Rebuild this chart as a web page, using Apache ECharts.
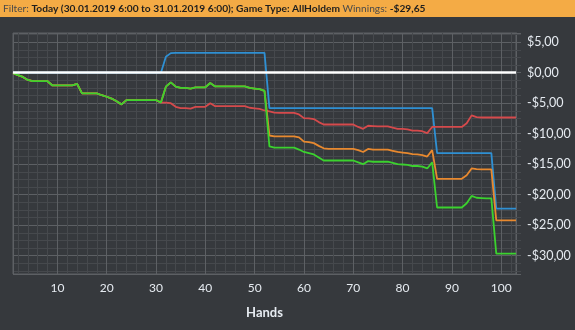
<!DOCTYPE html>
<html>
<head>
<meta charset="utf-8">
<script src="https://cdn.jsdelivr.net/npm/echarts@6/dist/echarts.min.js"></script>
<style>
html, body { margin: 0; padding: 0; background: #36393d; }
#chart { width: 575px; height: 330px; }
</style>
</head>
<body>
<div id="chart"></div>
<script>
// Running totals per hand, in dollars
const showdownWon = [
  0, 0, 0, 0, 0, 0, 0, 0, 0, 0,
  0, 0, 0, 0, 0, 0, 0, 0, 0, 0,
  0, 0, 0, 0, 0, 0, 0, 0, 0, 0,
  0, 2.6, 3.2, 3.25, 3.25, 3.25, 3.25, 3.25, 3.25, 3.25,
  3.25, 3.25, 3.25, 3.25, 3.25, 3.25, 3.25, 3.25, 3.25, 3.25,
  3.25, 3.25, -5.8, -5.8, -5.8, -5.8, -5.8, -5.8, -5.8, -5.8,
  -5.8, -5.8, -5.8, -5.8, -5.8, -5.8, -5.8, -5.8, -5.8, -5.8,
  -5.8, -5.8, -5.8, -5.8, -5.8, -5.8, -5.8, -5.8, -5.8, -5.8,
  -5.8, -5.8, -5.8, -5.8, -5.8, -5.8, -13.2, -13.2, -13.2, -13.2,
  -13.2, -13.2, -13.2, -13.2, -13.2, -13.2, -13.2, -13.2, -22.3, -22.3,
  -22.3, -22.3, -22.3
];
const nonShowdownWon = [
  -0.1, -0.4, -0.7, -1.2, -1.4, -1.4, -1.4, -1.4, -2.1, -2.1,
  -2.1, -2.1, -2.1, -1.85, -3.4, -3.4, -3.4, -3.4, -3.7, -3.95,
  -4.25, -4.7, -5.2, -4.5, -4.5, -4.5, -4.5, -4.5, -4.5, -4.5,
  -4.9, -4.9, -5.0, -5.6, -5.8, -5.8, -5.9, -5.6, -5.6, -5.6,
  -5.0, -5.5, -5.5, -5.5, -5.5, -5.5, -5.5, -5.5, -5.75, -5.85,
  -5.95, -6.2, -6.35, -6.55, -6.6, -6.6, -6.6, -6.6, -6.85, -7.45,
  -7.5, -7.6, -8.1, -8.5, -8.5, -8.5, -8.5, -8.5, -8.5, -8.5,
  -8.9, -9.2, -8.7, -8.75, -8.8, -8.8, -8.8, -9.0, -9.2, -9.2,
  -9.3, -9.5, -9.5, -9.6, -9.9, -8.9, -8.9, -8.9, -8.9, -8.9,
  -8.9, -8.9, -8.3, -7.0, -7.3, -7.35, -7.35, -7.35, -7.35, -7.35,
  -7.35, -7.35, -7.35
];
const allInAdjusted = [
  -0.1, -0.4, -0.7, -1.2, -1.4, -1.4, -1.4, -1.4, -2.1, -2.1,
  -2.1, -2.1, -2.1, -1.85, -3.4, -3.4, -3.4, -3.4, -3.7, -3.95,
  -4.25, -4.7, -5.2, -4.5, -4.5, -4.5, -4.5, -4.5, -4.5, -4.5,
  -4.9, -2.3, -1.6, -2.3, -2.5, -2.5, -2.6, -2.4, -2.4, -2.4,
  -1.7, -2.25, -2.25, -2.25, -2.25, -2.25, -2.25, -2.25, -2.5, -2.6,
  -2.7, -3.0, -10.3, -10.45, -10.45, -10.45, -10.45, -10.45, -10.6, -11.3,
  -11.4, -11.55, -12.0, -12.4, -12.5, -12.5, -12.5, -12.5, -12.5, -12.5,
  -12.7, -13.0, -12.5, -12.6, -12.6, -12.6, -12.6, -12.8, -13.0, -13.1,
  -13.2, -13.35, -13.4, -13.5, -13.75, -12.7, -17.4, -17.4, -17.4, -17.4,
  -17.4, -17.4, -16.8, -15.7, -15.8, -15.85, -15.85, -15.85, -24.2, -24.2,
  -24.2, -24.2, -24.2
];
const netWon = [
  -0.1, -0.4, -0.7, -1.2, -1.4, -1.4, -1.4, -1.4, -2.1, -2.1,
  -2.1, -2.1, -2.1, -1.85, -3.4, -3.4, -3.4, -3.4, -3.7, -3.95,
  -4.25, -4.7, -5.2, -4.5, -4.5, -4.5, -4.5, -4.5, -4.5, -4.5,
  -4.9, -2.3, -1.6, -2.3, -2.5, -2.5, -2.6, -2.4, -2.4, -2.4,
  -1.7, -2.25, -2.25, -2.25, -2.25, -2.25, -2.25, -2.25, -2.5, -2.6,
  -2.7, -3.0, -12.1, -12.3, -12.3, -12.3, -12.3, -12.3, -12.6, -13.0,
  -13.2, -13.4, -13.9, -14.4, -14.4, -14.4, -14.4, -14.4, -14.4, -14.4,
  -14.7, -15.0, -14.5, -14.6, -14.6, -14.6, -14.6, -14.8, -15.0, -15.05,
  -15.1, -15.3, -15.3, -15.4, -15.7, -14.7, -22.1, -22.1, -22.1, -22.1,
  -22.1, -22.1, -21.4, -20.2, -20.5, -20.55, -20.6, -20.6, -29.65, -29.65,
  -29.65, -29.65, -29.65
];

const handLabels = [10, 20, 30, 40, 50, 60, 70, 80, 90, 100];
const moneyLabels = [5, 0, -5, -10, -15, -20, -25, -30];

function money(v) {
  const s = Math.abs(v).toFixed(2).replace('.', ',');
  return (v < 0 ? '-' : '') + '$' + s;
}
function pairs(arr) {
  return arr.map((v, i) => [i + 1, v]);
}

const gridMajor = '#5d6064';
const gridMinor = '#46494d';
const labelColor = '#e6ebf1';
const fontFamily = 'Lato, "Open Sans", sans-serif';

const chart = echarts.init(document.getElementById('chart'), null, { renderer: 'canvas' });

function lineSeries(name, data, color, extra) {
  return Object.assign({
    name: name,
    type: 'line',
    data: pairs(data),
    showSymbol: false,
    symbol: 'none',
    smooth: false,
    animation: false,
    lineStyle: { color: color, width: 1.8 },
    itemStyle: { color: color }
  }, extra || {});
}

chart.setOption({
  backgroundColor: '#36393d',
  animation: false,
  graphic: [{
    type: 'rect',
    left: 0, top: 0,
    shape: { width: 575, height: 17 },
    style: { fill: '#f4ab45' },
    z: 0
  }],
  title: {
    text: '{n|Filter: }{b|Today (30.01.2019 6:00 to 31.01.2019 6:00); Game Type: AllHoldem }{n|Winnings: }{b|-$29,65}',
    left: 3,
    top: 2,
    padding: 0,
    textStyle: {
      fontSize: 10,
      rich: {
        n: { fontFamily: fontFamily, fontSize: 10.2, color: '#4a4a4a', fontWeight: 'normal', lineHeight: 14 },
        b: { fontFamily: fontFamily, fontSize: 10.2, color: '#1e1e1e', fontWeight: 'bold', lineHeight: 14 }
      }
    }
  },
  grid: {
    left: 13, right: 59, top: 33, bottom: 56,
    show: true,
    borderColor: gridMajor,
    borderWidth: 1,
    backgroundColor: 'transparent'
  },
  xAxis: {
    type: 'value',
    min: 1,
    max: 103,
    splitNumber: 10,
    name: 'Hands',
    nameLocation: 'middle',
    nameGap: 32,
    nameTextStyle: { color: labelColor, fontFamily: fontFamily, fontSize: 13, fontWeight: 'bold' },
    axisLine: { show: true, lineStyle: { color: gridMajor } },
    axisTick: { show: true, length: 5, lineStyle: { color: gridMajor } },
    minorTick: { show: true, splitNumber: 5, length: 5, lineStyle: { color: gridMinor } },
    axisLabel: {
      customValues: handLabels,
      color: labelColor,
      fontFamily: fontFamily,
      fontSize: 12,
      margin: 8
    },
    splitLine: { show: true, lineStyle: { color: gridMajor, width: 1 } },
    minorSplitLine: { show: true, lineStyle: { color: gridMinor, width: 1 } }
  },
  yAxis: {
    type: 'value',
    position: 'right',
    min: -33,
    max: 6.5,
    splitNumber: 8,
    axisLine: { show: true, lineStyle: { color: gridMajor } },
    axisTick: { show: true, length: 5, lineStyle: { color: gridMajor } },
    minorTick: { show: true, splitNumber: 4, length: 5, lineStyle: { color: gridMinor } },
    axisLabel: {
      customValues: moneyLabels,
      formatter: money,
      color: labelColor,
      fontFamily: fontFamily,
      fontSize: 12.5,
      margin: 11
    },
    splitLine: { show: true, lineStyle: { color: gridMajor, width: 1 } },
    minorSplitLine: { show: true, lineStyle: { color: gridMinor, width: 1 } }
  },
  series: [
    lineSeries('Showdown', showdownWon, '#2f90d3'),
    lineSeries('Non-showdown', nonShowdownWon, '#d64a4c'),
    lineSeries('All-in adjusted', allInAdjusted, '#e8892f'),
    lineSeries('Net won', netWon, '#3bd22e', {
      markLine: {
        silent: true,
        symbol: 'none',
        label: { show: false },
        animation: false,
        lineStyle: { color: '#ffffff', width: 2.5, type: 'solid' },
        data: [{ yAxis: 0 }]
      }
    })
  ]
});
</script>
</body>
</html>
